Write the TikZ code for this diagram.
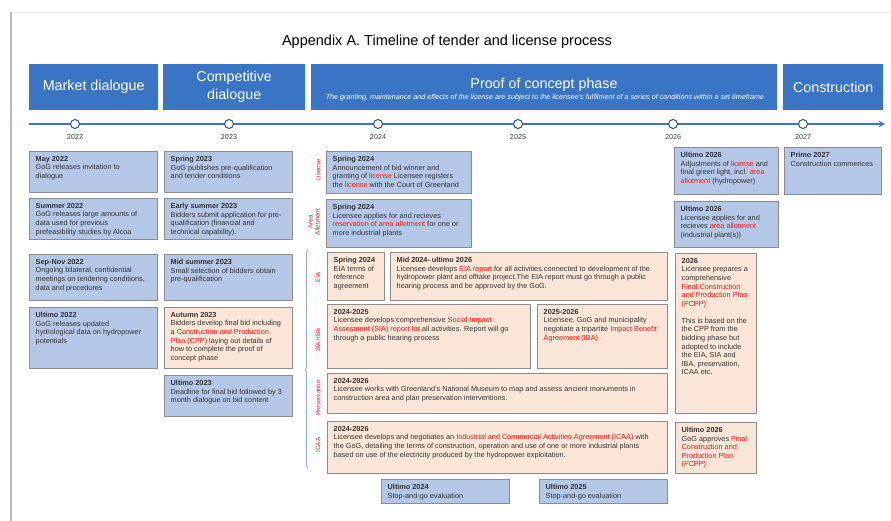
\documentclass[tikz,border=0pt]{standalone}
\usepackage{fontspec}
\setmainfont{Liberation Sans}
\usetikzlibrary{decorations.pathreplacing}
\definecolor{barblue}{RGB}{58,117,197}
\definecolor{boxblue}{RGB}{180,199,231}
\definecolor{boxpeach}{RGB}{251,229,214}
\definecolor{boxline}{RGB}{140,140,140}
\definecolor{hlred}{RGB}{255,20,20}
\definecolor{linecol}{RGB}{68,114,196}
\definecolor{bracecol}{RGB}{150,170,205}
\newcommand{\hl}[1]{\textcolor{hlred}{#1}}
% name, x1, y1, x2, y2, fill, text
\newcommand{\evbox}[7]{%
  \pgfmathsetmacro\evw{#4-#2}\pgfmathsetmacro\evh{#5-#3}%
  \node[evframe, fill=#6, minimum width=\evw pt, minimum height=\evh pt] (#1) at (#2,#3) {};
  \node[evtext] (#1-t) at ([xshift=6.5pt,yshift=-5pt]#1.north west) {#7};
}
\begin{document}
\begin{tikzpicture}[x=1pt,y=-1pt,>=stealth,line join=round,
    evframe/.style={draw=boxline,line width=0.8pt,anchor=north west,inner sep=0pt},
    evtext/.style={anchor=north west,inner sep=0pt,align=left,text=black!80,font=\fontsize{7.3}{8.6}\selectfont},
    phasebar/.style={fill=barblue,anchor=north west,inner sep=0pt,text=white,align=center,font=\fontsize{14.3}{18}\selectfont},
    sidelabel/.style={rotate=90,text=hlred,align=center,font=\fontsize{6.3}{6.8}\selectfont},
    yeardot/.style={circle,draw=linecol!70!black,fill=white,line width=1pt,minimum size=9pt,inner sep=0pt},
    yearlabel/.style={anchor=north,inner sep=0pt,text=black!75,font=\fontsize{7.2}{8}\selectfont}]
\useasboundingbox (0,0) rectangle (891,521);
% page edge
\draw[gray!18,line width=0.8pt] (11,12) -- (891,12);
\draw[gray!55,line width=1.5pt] (11,12) -- (11,521);
% title
\node[font=\fontsize{14.5}{16}\selectfont] (title) at (447,42) {Appendix A. Timeline of tender and license process};
% phases
\node[phasebar,minimum width=129pt,minimum height=46pt] (mkt) at (29,64) {Market dialogue};
\node[phasebar,minimum width=142pt,minimum height=46pt] (comp) at (163,64) {Competitive\\dialogue};
\node[phasebar,minimum width=466pt,minimum height=46pt] (poc) at (311,64) {};
\node[text=white,font=\fontsize{14.3}{16}\selectfont] (poc-t) at (544,85) {Proof of concept phase};
\node[text=white,font=\fontsize{7.2}{8}\selectfont\itshape] (poc-s) at (545,98) {The granting, maintenance and effects of the license are subject to the licensee's fulfilment of a series of conditions within a set timeframe};
\node[phasebar,minimum width=100pt,minimum height=46pt] (constr) at (783,64) {Construction};
% timeline
\coordinate (tl-s) at (29,124);
\coordinate (tl-e) at (885,124);
\draw[->,linecol,line width=1.8pt] (tl-s) -- (tl-e);
\foreach \yr/\x in {2022/75,2023/229,2024/378,2025/518,2026/673,2027/803}{
  \node[yeardot] (d\yr) at (\x,124) {};
  \node[yearlabel] (l\yr) at ([yshift=-5pt]d\yr.south) {\yr};
}
% market dialogue
\evbox{m1}{29}{151}{157}{192}{boxblue}{\textbf{May 2022}\\GoG releases invitation to\\dialogue}
\evbox{m2}{29}{198}{157}{239}{boxblue}{\textbf{Summer 2022}\\GoG releases large amounts of\\data used for previous\\prefeasibility studies by Alcoa}
\evbox{m3}{29}{254}{157}{300}{boxblue}{\textbf{Sep-Nov 2022}\\Ongoing bilateral, confidential\\meetings on tendering conditions,\\data and procedures}
\evbox{m4}{29}{307}{157}{368}{boxblue}{\textbf{Ultimo 2022}\\GoG releases updated\\hydrological data on hydropower\\potentials}
% competitive dialogue
\evbox{c1}{164}{151}{292}{192}{boxblue}{\textbf{Spring 2023}\\GoG publishes pre-qualification\\and tender conditions}
\evbox{c2}{164}{198}{292}{239}{boxblue}{\textbf{Early summer 2023}\\Bidders submit application for pre-\\qualification (financial and\\technical capability).}
\evbox{c3}{164}{254}{292}{300}{boxblue}{\textbf{Mid summer 2023}\\Small selection of bidders obtain\\pre-qualification}
\evbox{c4}{164}{307}{292}{368}{boxpeach}{\textbf{Autumn 2023}\\Bidders develop final bid including\\a \hl{Construction and Production}\\\hl{Plan (CPP)} laying out details of\\how to complete the proof of\\concept phase}
\evbox{c5}{164}{375}{292}{416}{boxblue}{\textbf{Ultimo 2023}\\Deadline for final bid followed by 3\\month dialogue on bid content}
% proof of concept
\evbox{lic}{326}{151}{471}{193}{boxblue}{\textbf{Spring 2024}\\Announcement of bid winner and\\granting of \hl{license} Licensee registers\\the \hl{license} with the Court of Greenland}
\evbox{area}{326}{199}{471}{247}{boxblue}{\textbf{Spring 2024}\\Licensee applies for and recieves\\\hl{reservation of area allotment} for one or\\more industrial plants}
\evbox{eia1}{327}{252}{384}{300}{boxpeach}{\textbf{Spring 2024}\\EIA terms of\\reference\\agreement}
\evbox{eia2}{390}{252}{667}{300}{boxpeach}{\textbf{Mid 2024- ultimo 2026}\\Licensee develops \hl{EIA report} for all activities connected to development of the\\hydropower plant and offtake project.The EIA report must go through a public\\hearing process and be approved by the GoG.}
\evbox{sia}{327}{304}{530}{368}{boxpeach}{\textbf{2024-2025}\\Licensee develops comprehensive \hl{Social Impact}\\\hl{Assesment (SIA) report for} all activities. Report will go\\through a public hearing process}
\evbox{iba}{537}{304}{667}{368}{boxpeach}{\textbf{2025-2026}\\Licensee, GoG and municipality\\negotiate a tripartite \hl{Impact Benefit}\\\hl{Agreement (IBA)}}
\evbox{pres}{327}{373}{667}{413}{boxpeach}{\textbf{2024-2026}\\Licensee works with Greenland's National Museum to map and assess ancient monuments in\\construction area and plan preservation interventions.}
\evbox{icaa}{327}{421}{667}{473}{boxpeach}{\textbf{2024-2026}\\Licensee develops and negotiates an \hl{Industrial and Commercial Activities Agreement (ICAA)} with\\the GoG, detailing the terms of construction, operation and use of one or more industrial plants\\based on use of the electricity produced by the hydropower exploitation.}
\evbox{sg24}{381}{479}{509}{503}{boxblue}{\textbf{Ultimo 2024}\\Stop-and-go evaluation}
\evbox{sg25}{539}{479}{667}{503}{boxblue}{\textbf{Ultimo 2025}\\Stop-and-go evaluation}
% 2026
\evbox{u1}{674}{147}{778}{194}{boxblue}{\textbf{Ultimo 2026}\\Adjustments of \hl{license} and\\final green light, incl. \hl{area}\\\hl{allotment} (hydropower)}
\evbox{u2}{674}{201}{778}{247}{boxblue}{\textbf{Ultimo 2026}\\Licensee applies for and\\recieves \hl{area allotment}\\(industrial plant(s))}
\evbox{fcpp}{675}{253}{756}{413}{boxpeach}{\textbf{2026}\\Licensee prepares a\\comprehensive\\\hl{Final Construction}\\\hl{and Production Plan}\\\hl{(FCPP)}\\[8.4pt]This is based on the\\the CPP from the\\bidding phase but\\adopted to include\\the EIA, SIA and\\IBA, preservation,\\ICAA etc.}
\evbox{appr}{675}{422}{756}{473}{boxpeach}{\textbf{Ultimo 2026}\\GoG approves \hl{Final}\\\hl{Construction and}\\\hl{Production Plan}\\\hl{(FCPP)}}
% construction
\evbox{k1}{784}{147}{881}{194}{boxblue}{\textbf{Primo 2027}\\Construction commences}
% side labels
\node[sidelabel] (s-lic) at (318,170) {License};
\node[sidelabel] (s-area) at (314,222) {Area\\Allotment};
\node[sidelabel] (s-eia) at (318,277) {EIA};
\node[sidelabel] (s-sia) at (318,340) {SIA+IBA};
\node[sidelabel] (s-pres) at (318,398) {Preservation};
\node[sidelabel] (s-icaa) at (318,445) {ICAA};
\coordinate (br-b) at (308,468);
\coordinate (br-t) at (308,250);
\draw[bracecol,line width=0.8pt,decorate,decoration={brace,amplitude=3pt,aspect=0.45}] (br-b) -- (br-t);
\end{tikzpicture}
\end{document}
